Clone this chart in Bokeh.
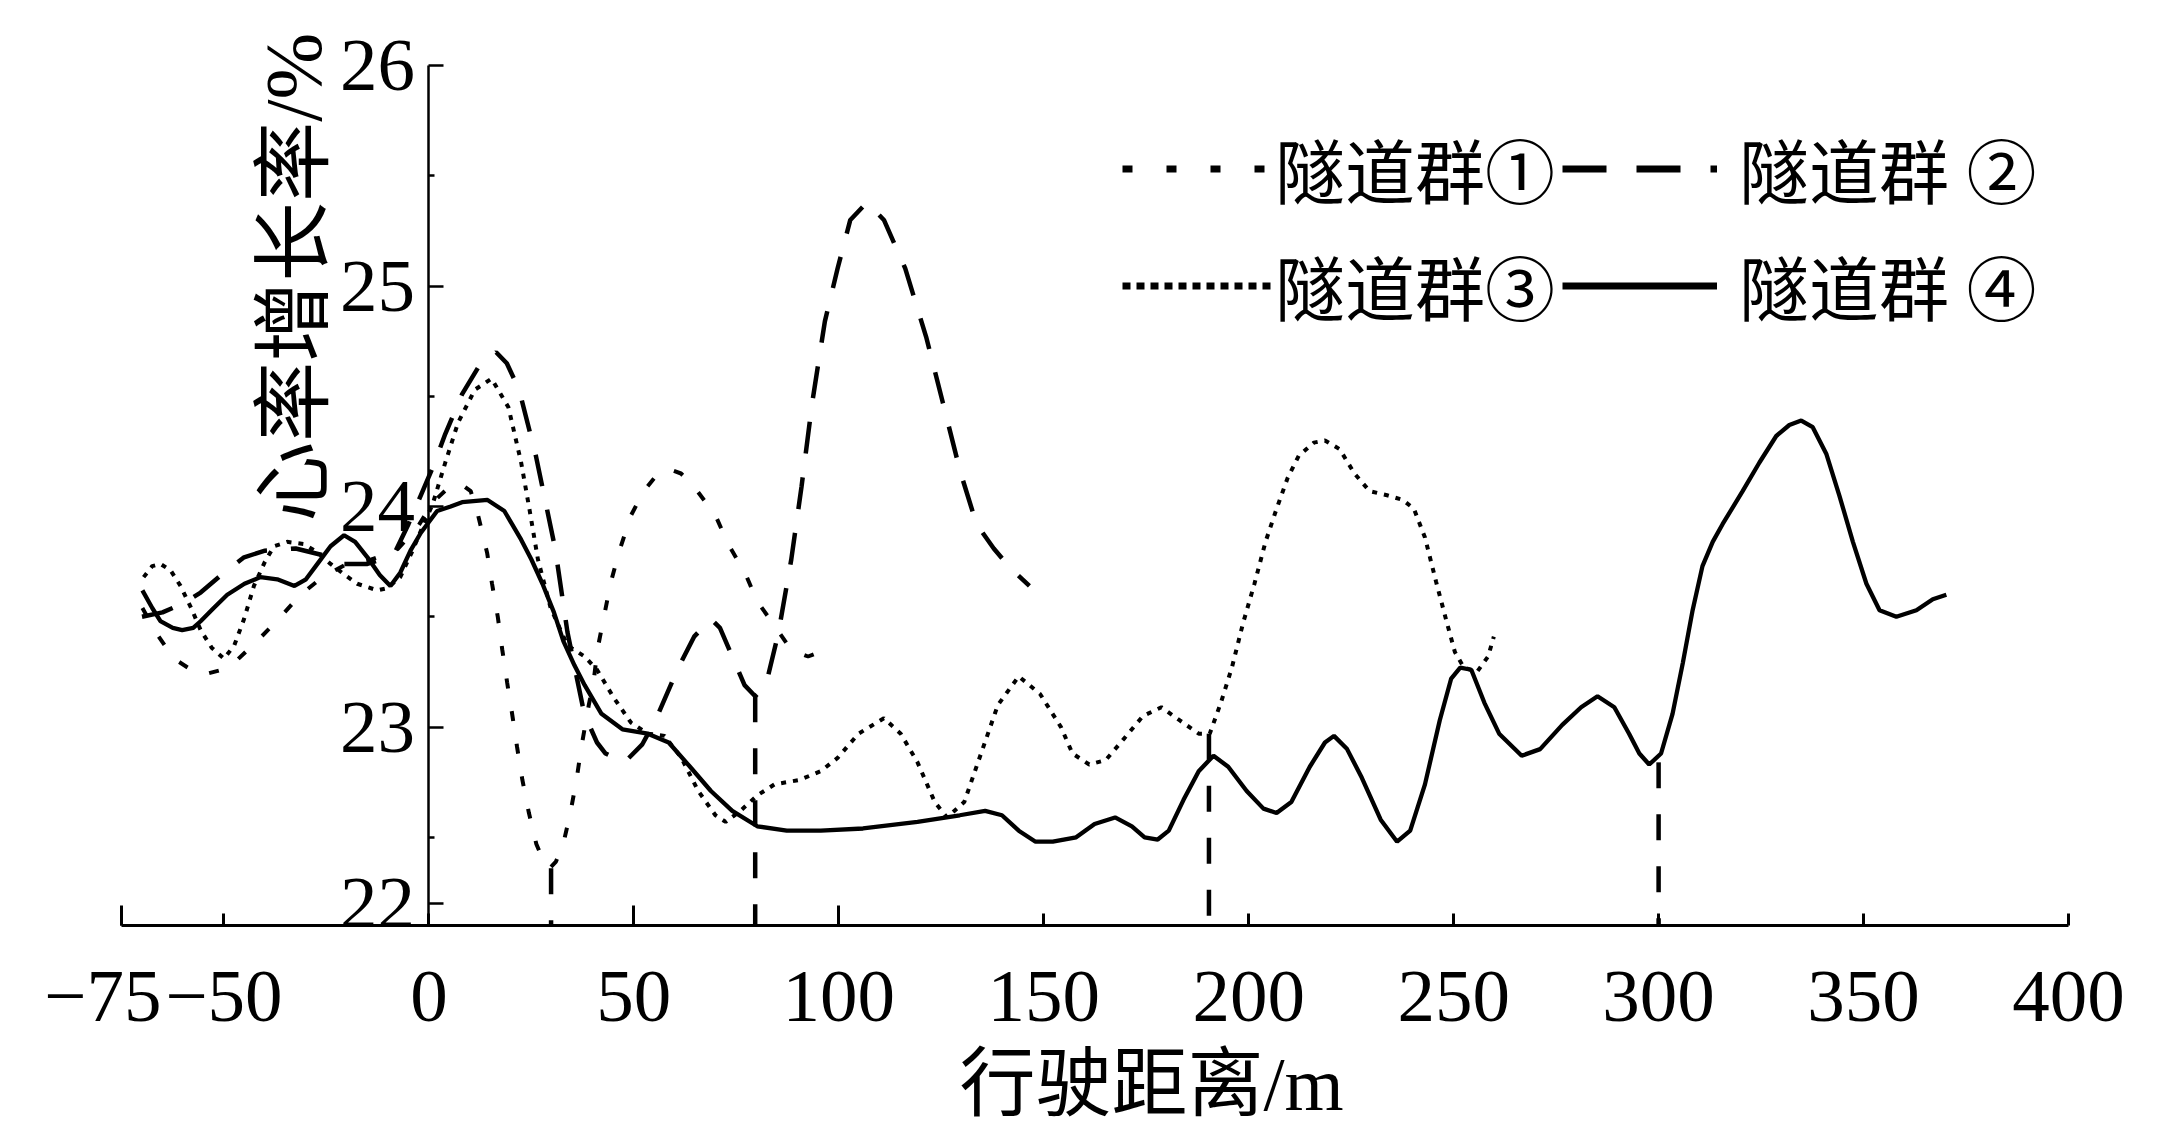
from bokeh.plotting import figure
from bokeh.models import FixedTicker, Label, Legend, LegendItem, Range1d, Title
from bokeh.embed import file_html
from bokeh.resources import INLINE

# ---------------- data ----------------
names = ["隧道群①", "隧道群 ②", "隧道群③", "隧道群 ④"]

g1_x = [-69.9, -66.3, -62.2, -58.0, -54.5, -50.5, -47.6, -41.9, -36.2, -31.3, -26.0, -20.0,
        -14.0, -8.0, -3.0, 1.0, 5.0, 8.0, 10.2, 12.0, 14.2, 15.4, 16.8, 17.9, 19.1, 20.3, 21.5,
        22.8, 24.4, 26.2, 28.0, 29.5, 31.0, 32.9, 34.5, 36.0, 37.2, 39.0, 40.2, 41.1, 42.7,
        44.3, 46.3, 49.3, 52.4, 55.0, 58.5, 61.5, 64.7, 69.9, 73.0, 77.1, 80.1, 84.3, 88.4,
        92.5, 96.6]
g1_y = [23.54, 23.42, 23.31, 23.26, 23.24, 23.26, 23.29, 23.39, 23.50, 23.60, 23.68, 23.74,
        23.76, 23.80, 23.90, 24.02, 24.09, 24.10, 24.07, 23.96, 23.79, 23.65, 23.50, 23.35,
        23.20, 23.06, 22.91, 22.76, 22.61, 22.47, 22.39, 22.36, 22.39, 22.48, 22.61, 22.76,
        22.91, 23.10, 23.21, 23.35, 23.50, 23.65, 23.79, 23.96, 24.07, 24.13, 24.17, 24.15,
        24.09, 23.96, 23.83, 23.70, 23.57, 23.46, 23.35, 23.32, 23.35]

g2_x = [-70.0, -65.0, -60.0, -55.7, -50.0, -45.1, -40.0, -32.5, -26.0, -20.7, -15.0, -8.6,
        -5.0, -2.0, 1.0, 4.0, 8.1, 12.0, 16.4, 19.0, 22.0, 26.1, 30.8, 33.8, 37.9, 41.0, 43.1,
        47.7, 52.0, 55.5, 60.6, 64.7, 68.8, 71.0, 74.0, 77.0, 79.6, 82.2, 85.3, 88.4, 90.9,
        93.5, 96.6, 99.7, 102.8, 106.9, 111.0, 116.2, 121.3, 125.4, 129.6, 133.6, 137.8,
        141.9, 146.5]
g2_y = [23.50, 23.52, 23.56, 23.61, 23.70, 23.77, 23.80, 23.81, 23.78, 23.74, 23.74, 23.78,
        23.92, 24.05, 24.18, 24.33, 24.51, 24.63, 24.70, 24.65, 24.53, 24.23, 23.81, 23.43,
        23.06, 22.93, 22.88, 22.84, 22.92, 23.04, 23.26, 23.41, 23.49, 23.45, 23.32, 23.19,
        23.14, 23.19, 23.43, 23.76, 24.09, 24.47, 24.84, 25.08, 25.30, 25.38, 25.30, 25.08,
        24.77, 24.47, 24.16, 23.92, 23.81, 23.72, 23.64]

g3_x = [-69.6, -67.5, -65.5, -63.0, -60.6, -58.0, -55.7, -53.0, -50.0, -47.5, -45.1, -42.7,
        -40.0, -37.8, -34.6, -30.5, -27.0, -24.0, -20.5, -17.5, -12.6, -10.2, -7.0, -4.0,
        -1.3, 0.9, 4.0, 7.1, 11.2, 15.3, 19.4, 22.5, 24.6, 26.6, 29.7, 33.8, 38.0, 41.0,
        45.2, 49.3, 53.4, 57.5, 61.6, 65.7, 69.9, 72.4, 76.0, 80.1, 84.3, 90.4, 95.6, 99.7,
        104.8, 111.0, 115.1, 119.2, 123.4, 126.4, 130.6, 134.7, 138.8, 143.9, 149.1, 154.2,
        157.0, 161.1, 165.1, 169.7, 174.2, 178.7, 183.2, 187.8, 190.5, 193.2, 195.9, 198.6,
        201.4, 204.1, 206.8, 209.5, 212.2, 215.9, 218.6, 222.2, 225.8, 229.5, 234.0, 237.6,
        240.3, 243.0, 245.7, 248.4, 250.3, 252.5, 255.7, 258.4, 259.8]
g3_y = [23.68, 23.73, 23.74, 23.71, 23.64, 23.54, 23.44, 23.36, 23.31, 23.37, 23.49, 23.64,
        23.75, 23.82, 23.84, 23.83, 23.79, 23.74, 23.69, 23.65, 23.62, 23.63, 23.68, 23.80,
        23.92, 24.01, 24.20, 24.38, 24.53, 24.58, 24.45, 24.20, 23.98, 23.76, 23.54, 23.37,
        23.32, 23.26, 23.13, 23.02, 22.97, 22.96, 22.86, 22.71, 22.60, 22.57, 22.62, 22.69,
        22.74, 22.76, 22.80, 22.86, 22.97, 23.04, 22.97, 22.84, 22.66, 22.59, 22.66, 22.88,
        23.10, 23.23, 23.15, 23.00, 22.88, 22.83, 22.85, 22.95, 23.05, 23.09, 23.03, 22.97,
        22.97, 23.11, 23.27, 23.47, 23.65, 23.84, 23.99, 24.13, 24.23, 24.29, 24.30, 24.26,
        24.15, 24.07, 24.05, 24.03, 23.99, 23.86, 23.66, 23.47, 23.34, 23.27, 23.25, 23.32,
        23.41]

g4_x = [-69.9, -67.5, -65.5, -62.5, -60.2, -57.5, -55.7, -52.5, -49.2, -45.0, -41.1, -37.0,
        -32.8, -30.0, -27.2, -24.0, -20.7, -18.0, -15.0, -12.0, -9.4, -7.0, -4.5, -2.0, 0.4,
        2.0, 5.3, 8.1, 14.3, 18.4, 22.5, 25.0, 27.7, 30.5, 32.8, 35.5, 38.0, 42.1, 47.2, 53.4,
        58.5, 63.7, 68.8, 74.0, 80.1, 87.3, 95.6, 105.9, 119.2, 129.5, 135.7, 139.8, 143.9,
        148.0, 152.2, 157.9, 162.4, 167.4, 171.5, 174.6, 177.8, 180.5, 184.1, 187.8, 191.4,
        195.0, 199.5, 203.6, 206.8, 210.4, 214.9, 218.6, 220.8, 224.0, 227.6, 232.2, 236.2,
        239.4, 243.0, 246.6, 249.4, 251.6, 254.3, 257.5, 261.1, 266.6, 271.1, 276.5, 281.1,
        285.1, 289.2, 292.8, 295.3, 297.7, 300.6, 303.4, 305.9, 308.3, 310.7, 313.2, 315.6,
        320.5, 324.6, 328.7, 331.9, 334.8, 337.6, 340.9, 344.1, 347.4, 350.7, 353.9, 358.0,
        362.9, 366.9, 370.2]
g4_y = [23.62, 23.54, 23.48, 23.45, 23.44, 23.45, 23.48, 23.54, 23.60, 23.65, 23.68, 23.67,
        23.64, 23.67, 23.74, 23.82, 23.87, 23.84, 23.77, 23.69, 23.64, 23.70, 23.80, 23.88,
        23.94, 23.98, 24.00, 24.02, 24.03, 23.98, 23.85, 23.76, 23.65, 23.52, 23.39, 23.28,
        23.19, 23.06, 22.99, 22.97, 22.93, 22.82, 22.71, 22.62, 22.55, 22.53, 22.53, 22.54,
        22.57, 22.60, 22.62, 22.60, 22.53, 22.48, 22.48, 22.50, 22.56, 22.59, 22.55, 22.50,
        22.49, 22.53, 22.67, 22.80, 22.87, 22.82, 22.71, 22.63, 22.61, 22.66, 22.82, 22.93,
        22.96, 22.90, 22.77, 22.58, 22.48, 22.53, 22.74, 23.03, 23.22, 23.27, 23.26, 23.11,
        22.97, 22.87, 22.90, 23.01, 23.09, 23.14, 23.09, 22.97, 22.88, 22.83, 22.88, 23.06,
        23.29, 23.53, 23.73, 23.84, 23.92, 24.07, 24.20, 24.32, 24.37, 24.39, 24.36, 24.24,
        24.05, 23.84, 23.65, 23.53, 23.50, 23.53, 23.58, 23.60]

# tunnel-entrance marker lines
marker_x = [29.8, 79.6, 190.3, 300.0]
marker_top = [22.36, 23.14, 22.97, 22.84]

x_ticks = [-75, -50, 0, 50, 100, 150, 200, 250, 300, 350, 400]
x_long_ticks = [-75, 50, 100]
y_ticks = [22.2, 23, 24, 25, 26]
y_tick_labels = ["22", "23", "24", "25", "26"]
y_minor = [22.5, 23.5, 24.5, 25.5]

x_range = (-75, 400)
y_axis_span = (22.1, 26.0)
y_range = (22.1, 26.2)

x_title = "行驶距离/m"
y_title = "心率增长率/%"

# ---------------- styling ----------------
SERIF = "Liberation Serif"
MIXED = "'Liberation Serif', 'Noto Sans CJK SC'"
BLACK = "#000000"

W, H = 2150, 1130
p = figure(width=W, height=H, output_backend="svg", toolbar_location=None,
           x_range=Range1d(*x_range), y_range=Range1d(*y_range),
           min_border_left=121, min_border_right=82, min_border_top=21,
           min_border_bottom=205)
p.title.visible = False
p.outline_line_color = None
p.xgrid.visible = False
p.ygrid.visible = False
p.background_fill_color = "white"
p.border_fill_color = "white"

# x axis
xa = p.xaxis[0]
xa.ticker = FixedTicker(ticks=x_ticks, minor_ticks=x_long_ticks)
xlab = {t: (f"\u2212{abs(t)}" if t < 0 else str(t)) for t in x_ticks}
xlab[-75] = "\u221275\u2002"
xa.major_label_overrides = xlab
xa.axis_line_width = 3
xa.axis_line_color = BLACK
xa.major_tick_in = 12
xa.major_tick_out = 0
xa.major_tick_line_width = 3
xa.minor_tick_in = 20
xa.minor_tick_out = 0
xa.minor_tick_line_width = 3
xa.major_label_text_font = SERIF
xa.major_label_text_font_size = "75px"
xa.major_label_text_color = BLACK
xa.major_label_standoff = 28

# x axis title, placed below the axis and shifted right like the reference
p.add_layout(Title(text=x_title, align="left", offset=838, standoff=0,
                   text_font=MIXED, text_font_size="76px", text_font_style="normal",
                   text_color=BLACK), "below")

# y axis placed at x = 0
ya = p.yaxis[0]
ya.fixed_location = 0
ya.bounds = y_axis_span
ya.ticker = FixedTicker(ticks=y_ticks, minor_ticks=y_minor)
ya.major_label_overrides = {t: s for t, s in zip(y_ticks, y_tick_labels)}
ya.axis_line_width = 2.5
ya.axis_line_color = BLACK
ya.major_tick_in = 15
ya.major_tick_out = 0
ya.major_tick_line_width = 2.5
ya.minor_tick_in = 6
ya.minor_tick_out = 0
ya.minor_tick_line_width = 2.5
ya.major_label_text_font = SERIF
ya.major_label_text_font_size = "75px"
ya.major_label_text_color = BLACK
ya.major_label_standoff = 14

# series
p.line(g1_x, g1_y, line_color=BLACK, line_width=4, line_dash="10 23")
p.line(g2_x, g2_y, line_color=BLACK, line_width=4.5, line_dash="32 24")
p.line(g3_x, g3_y, line_color=BLACK, line_width=4, line_dash="5 7")
p.line(g4_x, g4_y, line_color=BLACK, line_width=4.3)

p.segment(x0=marker_x, y0=marker_top, x1=marker_x, y1=[y_axis_span[0]] * len(marker_x),
          line_color=BLACK, line_width=4.5, line_dash="26 26")

# legend proxies (legend samples drawn with their own dash styles)
nan = float("nan")
l1 = p.line([nan], [nan], line_color=BLACK, line_width=7, line_dash="10 34")
l2 = p.line([nan], [nan], line_color=BLACK, line_width=7, line_dash="44 30")
l3 = p.line([nan], [nan], line_color=BLACK, line_width=7, line_dash="8 6")
l4 = p.line([nan], [nan], line_color=BLACK, line_width=7)

common = dict(orientation="vertical", padding=0, margin=0, spacing=16,
              glyph_height=95, label_height=95,
              label_text_font=MIXED, label_text_font_size="70px",
              label_text_color=BLACK, border_line_color=None,
              background_fill_alpha=0)

legend_left = Legend(items=[LegendItem(label=names[0], renderers=[l1]),
                            LegendItem(label=names[2], renderers=[l3])],
                     location=(1001, 589), glyph_width=150, label_standoff=3, **common)
legend_right = Legend(items=[LegendItem(label=names[1], renderers=[l2]),
                             LegendItem(label=names[3], renderers=[l4])],
                      location=(1441, 589), glyph_width=155, label_standoff=22, **common)
p.add_layout(legend_left, "center")
p.add_layout(legend_right, "center")

# y axis title (offset upward like the reference)
p.add_layout(Label(x=-33, y=25.04, text=y_title, angle=90, angle_units="deg",
                   text_align="center", text_baseline="middle",
                   text_font=MIXED, text_font_size="80px", text_color=BLACK))

open("out.html", "w").write(file_html(p, INLINE))
